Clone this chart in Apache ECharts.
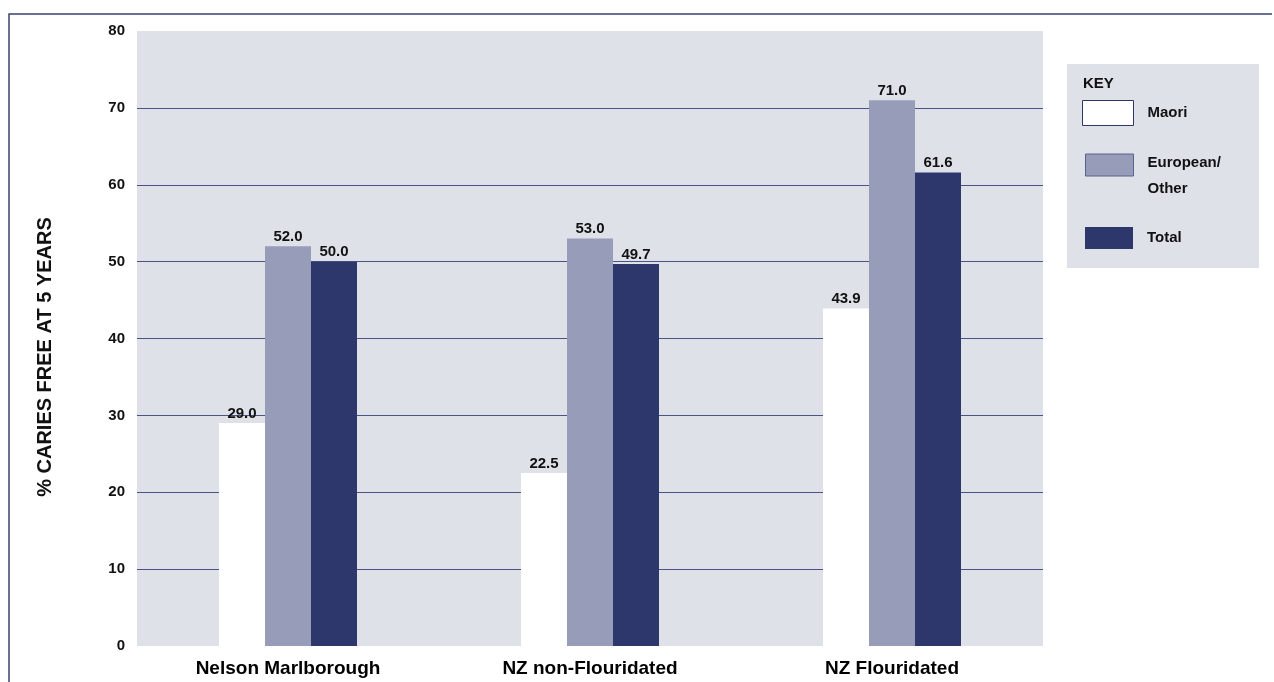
<!DOCTYPE html>
<html>
<head>
<meta charset="utf-8">
<title>% Caries free at 5 years</title>
<script src="https://cdn.jsdelivr.net/npm/echarts@6/dist/echarts.min.js"></script>
<style>
  html, body { margin: 0; padding: 0; background: #ffffff; }
  #chart { width: 1274px; height: 682px; }
</style>
</head>
<body>
<div id="chart"></div>
<script>
// Regions compared
const categories = ['Nelson Marlborough', 'NZ non-Flouridated', 'NZ Flouridated'];

// Percentage of children caries free at age 5, by ethnicity
const maori = [29.0, 22.5, 43.9];
const europeanOther = [52.0, 53.0, 71.0];
const total = [50.0, 49.7, 61.6];

const FONT = '"Liberation Sans", Arial, Helvetica, sans-serif';
const NAVY = '#2d376c';
const GREY = '#979cb8';
const PANEL = '#dfe1e9';
const RULE = '#4b5488';

const chart = echarts.init(document.getElementById('chart'), null, { renderer: 'canvas' });

const valueLabel = {
  show: true,
  position: 'top',
  distance: 2,
  fontFamily: FONT,
  fontWeight: 'bold',
  fontSize: 15,
  color: '#111111',
  formatter: p => p.value.toFixed(1)
};

const legendText = {
  fontFamily: FONT,
  fontWeight: 'bold',
  fontSize: 15,
  color: '#111111'
};

chart.setOption({
  backgroundColor: '#ffffff',
  animation: false,
  grid: {
    left: 137, right: 231, top: 31, bottom: 36,
    show: true, backgroundColor: PANEL, borderWidth: 0
  },
  xAxis: {
    type: 'category',
    data: categories,
    axisLine: { show: false },
    axisTick: { show: false },
    axisLabel: {
      margin: 13,
      fontFamily: FONT, fontWeight: 'bold', fontSize: 19, color: '#000000'
    }
  },
  yAxis: {
    type: 'value',
    min: 0, max: 80, interval: 10,
    axisLine: { show: false },
    axisTick: { show: false },
    axisLabel: {
      margin: 12,
      fontFamily: FONT, fontWeight: 'bold', fontSize: 15, color: '#111111'
    },
    splitLine: {
      show: true,
      lineStyle: {
        width: 1,
        color: ['rgba(0,0,0,0)', RULE, RULE, RULE, RULE, RULE, RULE, RULE, 'rgba(0,0,0,0)']
      }
    }
  },
  legend: [
    {
      data: ['Maori'], orient: 'vertical', left: 1077, top: 95,
      itemWidth: 51, itemHeight: 25, icon: 'rect', selectedMode: false,
      itemStyle: { borderColor: NAVY, borderWidth: 1 },
      textStyle: Object.assign({ padding: [0, 0, 0, 9] }, legendText)
    },
    {
      data: ['European/Other'], orient: 'vertical', left: 1080, top: 133,
      itemWidth: 48, itemHeight: 22, icon: 'rect', selectedMode: false,
      itemStyle: { borderColor: '#5a618e', borderWidth: 1 },
      // two-line label sitting a little below the swatch centre
      formatter: () => '{s| }\n{t|European/}\n{t|Other}',
      textStyle: Object.assign({
        padding: [0, 0, 0, 9],
        rich: {
          s: { lineHeight: 22, fontSize: 2 },
          t: Object.assign({ lineHeight: 26 }, legendText)
        }
      }, legendText)
    },
    {
      data: ['Total'], orient: 'vertical', left: 1080, top: 222,
      itemWidth: 48, itemHeight: 22, icon: 'rect', selectedMode: false,
      textStyle: Object.assign({ padding: [0, 0, 0, 9] }, legendText)
    }
  ],
  graphic: [
    // outer frame: top and left rules
    {
      type: 'polyline', z: -1,
      shape: { points: [[9, 682], [9, 14], [1272, 14]] },
      style: { stroke: '#3b4270', lineWidth: 1.5, fill: null }
    },
    // key panel
    {
      type: 'rect', z: -1,
      shape: { x: 1067, y: 64, width: 192, height: 204 },
      style: { fill: PANEL }
    },
    {
      type: 'text', left: 1083, top: 76,
      style: { text: 'KEY', font: 'bold 15px ' + FONT, fill: '#111111' }
    },
    // y-axis title
    {
      type: 'text', x: 45, y: 357, rotation: Math.PI / 2,
      style: {
        text: '% CARIES FREE AT 5 YEARS',
        font: 'bold 20px ' + FONT, fill: '#111111',
        align: 'center', verticalAlign: 'middle'
      }
    }
  ],
  series: [
    {
      name: 'Maori', type: 'bar', data: maori,
      barWidth: 46, barGap: '0%',
      itemStyle: { color: '#ffffff' },
      label: valueLabel
    },
    {
      name: 'European/Other', type: 'bar', data: europeanOther,
      barWidth: 46, barGap: '0%',
      itemStyle: { color: GREY },
      label: valueLabel
    },
    {
      name: 'Total', type: 'bar', data: total,
      barWidth: 46, barGap: '0%',
      itemStyle: { color: NAVY },
      label: valueLabel
    }
  ]
});
</script>
</body>
</html>
